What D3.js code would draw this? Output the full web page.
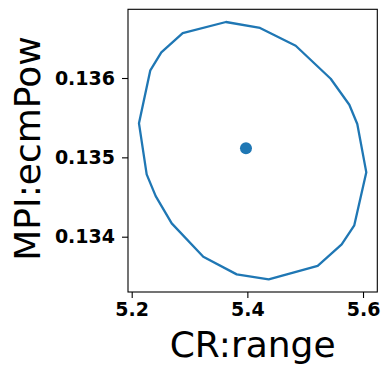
<!DOCTYPE html>
<html>
<head>
<meta charset="utf-8">
<script src="https://cdn.jsdelivr.net/npm/d3@7"></script>
<style>
  html, body { margin: 0; padding: 0; background: #fff; }
  svg { display: block; }
</style>
</head>
<body>
<svg id="chart" width="382" height="368"></svg>
<script>
// Confidence contour around the best-fit point (CR:range vs MPI:ecmPow)
const contourX = [5.363, 5.4219, 5.4836, 5.5441, 5.5763, 5.5901, 5.6057, 5.5849, 5.5631, 5.5216,
                  5.4369, 5.3816, 5.3238, 5.2692, 5.2415, 5.2259, 5.2126, 5.2322, 5.2512, 5.2882];
const contourY = [0.136706, 0.136631, 0.136407, 0.135991, 0.135663, 0.135420, 0.134811, 0.134143, 0.133903, 0.133633,
                  0.133462, 0.133525, 0.133747, 0.134168, 0.134512, 0.134786, 0.135429, 0.136097, 0.136324, 0.136567];
const centerX = [5.3976];
const centerY = [0.135114];

const xTicks = [5.2, 5.4, 5.6];
const yTicks = [0.134, 0.135, 0.136];
const xDomain = [5.1936, 5.6247];
const yDomain = [0.133303, 0.136866];

const xLabel = "CR:range";
const yLabel = "MPI:ecmPow";

const blue = "#1f77b4";
const plot = { left: 128, right: 377.3, top: 9.3, bottom: 292 };

const svg = d3.select("#chart");

const x = d3.scaleLinear().domain(xDomain).range([plot.left, plot.right]);
const y = d3.scaleLinear().domain(yDomain).range([plot.bottom, plot.top]);

// closed contour line
const pts = contourX.map((v, i) => [v, contourY[i]]);
const line = d3.line().x(d => x(d[0])).y(d => y(d[1])).curve(d3.curveLinearClosed);
svg.append("path")
  .attr("d", line(pts))
  .attr("fill", "none")
  .attr("stroke", blue)
  .attr("stroke-width", 2.3)
  .attr("stroke-linejoin", "round");

// best-fit point
svg.selectAll("circle.center")
  .data(centerX.map((v, i) => [v, centerY[i]]))
  .join("circle")
  .attr("class", "center")
  .attr("cx", d => x(d[0]))
  .attr("cy", d => y(d[1]))
  .attr("r", 6)
  .attr("fill", blue);

// frame
svg.append("rect")
  .attr("x", plot.left).attr("y", plot.top)
  .attr("width", plot.right - plot.left).attr("height", plot.bottom - plot.top)
  .attr("fill", "none").attr("stroke", "#000").attr("stroke-width", 1.1);

const tickFont = "'DejaVu Sans', sans-serif";

const xAxis = svg.append("g")
  .attr("transform", `translate(0,${plot.bottom})`)
  .call(d3.axisBottom(x).tickValues(xTicks).tickFormat(d3.format(".1f")).tickSize(6).tickPadding(5));
const yAxis = svg.append("g")
  .attr("transform", `translate(${plot.left},0)`)
  .call(d3.axisLeft(y).tickValues(yTicks).tickFormat(d3.format(".3f")).tickSize(6).tickPadding(7));

[xAxis, yAxis].forEach(g => {
  g.select(".domain").remove();
  g.selectAll(".tick line").attr("stroke", "#000").attr("stroke-width", 1.1);
  g.selectAll(".tick text")
    .attr("fill", "#000")
    .style("font-family", tickFont)
    .style("font-weight", "bold")
    .style("font-size", "19px");
});

// axis titles
svg.append("text")
  .attr("x", (plot.left + plot.right) / 2)
  .attr("y", 357)
  .attr("text-anchor", "middle")
  .style("font-family", tickFont)
  .style("font-size", "36px")
  .attr("fill", "#000")
  .text(xLabel);

svg.append("text")
  .attr("transform", `translate(40,148.5) rotate(-90)`)
  .attr("text-anchor", "middle")
  .style("font-family", tickFont)
  .style("font-size", "36px")
  .attr("fill", "#000")
  .text(yLabel);
</script>
</body>
</html>
